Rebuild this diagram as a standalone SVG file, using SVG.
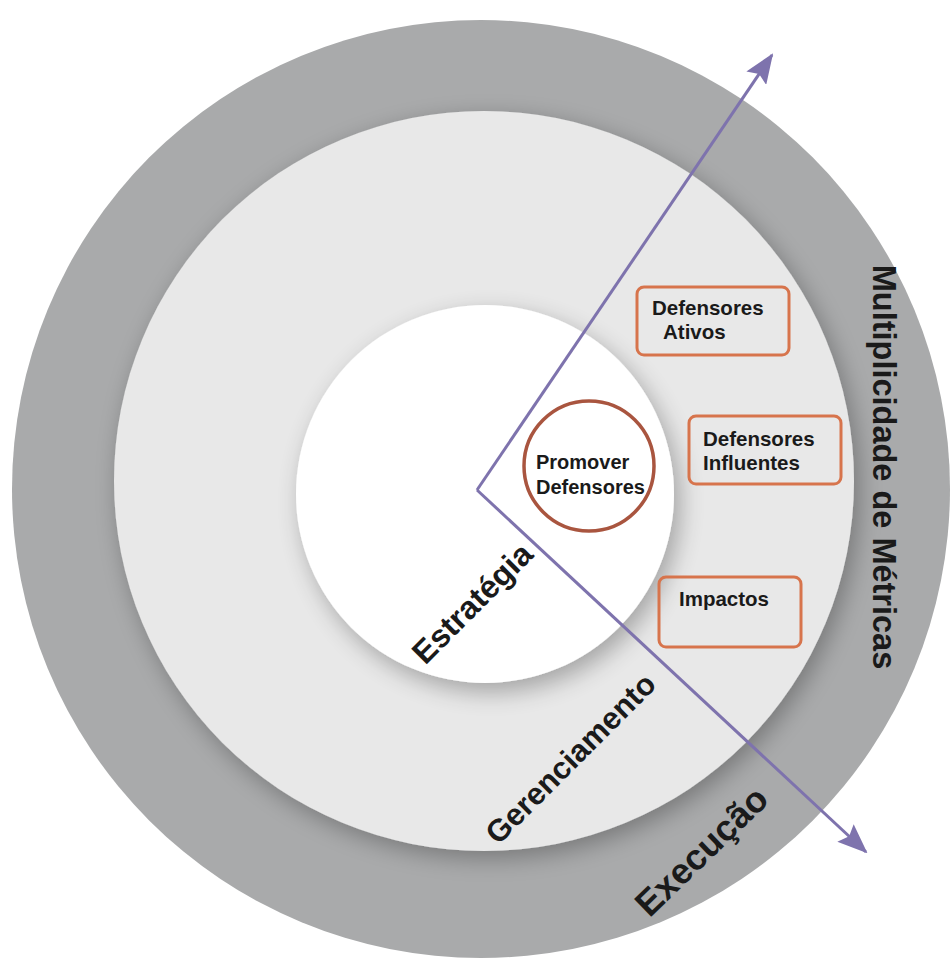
<svg xmlns="http://www.w3.org/2000/svg" width="952" height="959" viewBox="0 0 952 959">
  <style>
    .lbl { font-family: "Liberation Sans", Arial, sans-serif; font-weight: bold; fill: #1a1a1a; }
    .box { fill: none; stroke: #d7744c; stroke-width: 3; }
    .conn { fill: none; stroke: #7e73ad; stroke-width: 3; }
  </style>
  <defs>
    <filter id="shadowMid" x="-20%" y="-20%" width="140%" height="140%">
      <feGaussianBlur in="SourceAlpha" stdDeviation="12"/>
      <feOffset dx="5" dy="7" result="b"/>
      <feComponentTransfer><feFuncA type="linear" slope="0.3"/></feComponentTransfer>
      <feMerge><feMergeNode/><feMergeNode in="SourceGraphic"/></feMerge>
    </filter>
    <filter id="shadowIn" x="-30%" y="-30%" width="160%" height="160%">
      <feGaussianBlur in="SourceAlpha" stdDeviation="12"/>
      <feOffset dx="6" dy="9" result="b"/>
      <feComponentTransfer><feFuncA type="linear" slope="0.3"/></feComponentTransfer>
      <feMerge><feMergeNode/><feMergeNode in="SourceGraphic"/></feMerge>
    </filter>
    <marker id="arrow" viewBox="0 0 30 24" refX="28" refY="12" markerWidth="30" markerHeight="24" markerUnits="userSpaceOnUse" orient="auto">
      <path d="M0,0 L30,12 L0,24 L5,12 Z" fill="#7e73ad"/>
    </marker>
  </defs>

  <rect width="952" height="959" fill="#ffffff"/>

  <g id="ring-execucao">
    <circle cx="481" cy="489" r="469" fill="#a9aaab"/>
  </g>
  <g id="ring-gerenciamento">
    <circle cx="484" cy="481" r="370" fill="#e8e8e8" filter="url(#shadowMid)"/>
  </g>
  <g id="core-estrategia">
    <circle cx="485" cy="494" r="189" fill="#ffffff" filter="url(#shadowIn)"/>
  </g>

  <g id="connectors">
    <line class="conn" x1="477" y1="490" x2="772" y2="55" marker-end="url(#arrow)"/>
    <line class="conn" x1="477" y1="490" x2="866" y2="852" marker-end="url(#arrow)"/>
  </g>

  <g id="promover-defensores">
    <circle cx="589" cy="466" r="65" fill="none" stroke="#a9553f" stroke-width="3.5"/>
    <text class="lbl" x="536" y="469" font-size="20">Promover</text>
    <text class="lbl" x="536" y="494" font-size="20">Defensores</text>
  </g>

  <g id="defensores-ativos">
    <rect class="box" x="637" y="287" width="152" height="68" rx="7"/>
    <text class="lbl" x="652" y="315" font-size="20.5">Defensores</text>
    <text class="lbl" x="663" y="339" font-size="20.5">Ativos</text>
  </g>

  <g id="defensores-influentes">
    <rect class="box" x="689" y="416" width="152" height="68" rx="7"/>
    <text class="lbl" x="703" y="446" font-size="20.5">Defensores</text>
    <text class="lbl" x="703" y="470" font-size="20.5">Influentes</text>
  </g>

  <g id="impactos">
    <rect class="box" x="659" y="577" width="142" height="70" rx="7"/>
    <text class="lbl" x="679" y="606" font-size="20.5">Impactos</text>
  </g>

  <g id="label-estrategia">
    <text class="lbl" font-size="32" text-anchor="middle" transform="translate(480,611) rotate(-45)">Estratégia</text>
  </g>
  <g id="label-gerenciamento">
    <text class="lbl" font-size="31" text-anchor="middle" transform="translate(578,766) rotate(-45)">Gerenciamento</text>
  </g>
  <g id="label-execucao">
    <text class="lbl" font-size="36" text-anchor="middle" transform="translate(710,860) rotate(-44)">Execução</text>
  </g>
  <g id="label-metricas">
    <text class="lbl" font-size="32.5" text-anchor="middle" transform="translate(873,467) rotate(90)">Multiplicidade de Métricas</text>
  </g>
</svg>
